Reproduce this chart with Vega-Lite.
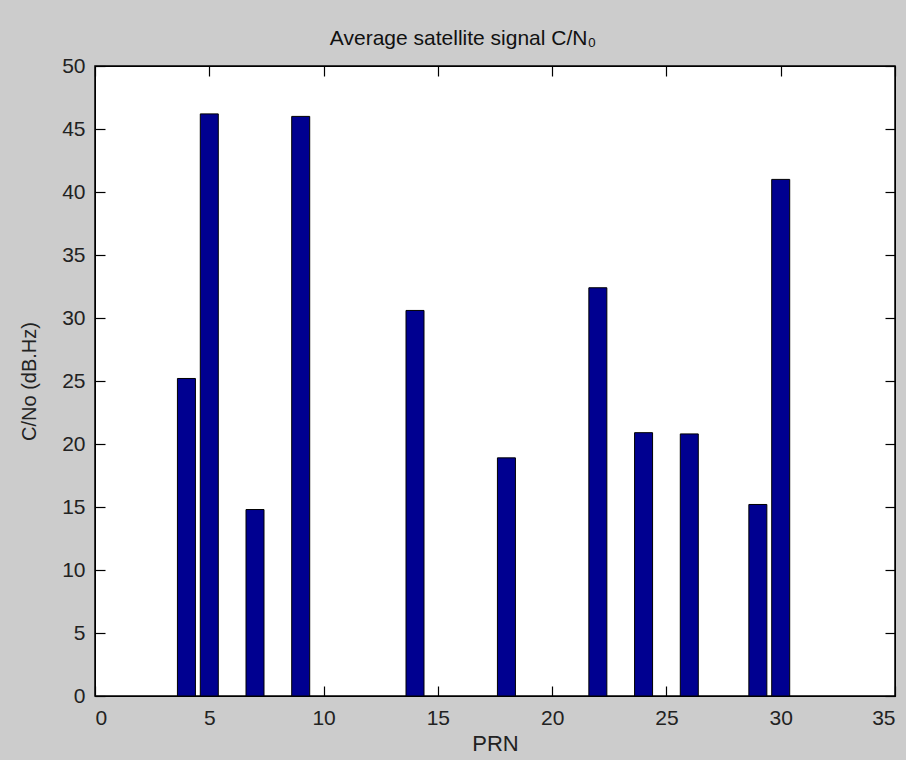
{
  "$schema": "https://vega.github.io/schema/vega-lite/v6.json",
  "autosize": "none",
  "width": 800,
  "height": 630,
  "padding": {"left": 95, "top": 66, "right": 11, "bottom": 64},
  "background": "#cccccc",
  "title": {
    "text": "Average satellite signal C/N₀",
    "font": "Liberation Sans",
    "fontSize": 21,
    "fontWeight": "normal",
    "color": "#111111",
    "anchor": "middle",
    "offset": 6,
    "dx": -32
  },
  "config": {
    "view": {"fill": "#ffffff", "stroke": "#000000", "strokeWidth": 1.5},
    "axis": {
      "labelFont": "Liberation Sans",
      "labelFontSize": 21,
      "labelColor": "#222222",
      "titleFont": "Liberation Sans",
      "titleFontWeight": "normal",
      "titleColor": "#222222",
      "grid": false,
      "domainColor": "#000000",
      "tickColor": "#000000",
      "tickSize": -10,
      "tickWidth": 1.2
    }
  },
  "data": {
    "values": [
      {"PRN": 4, "CN0": 25.2},
      {"PRN": 5, "CN0": 46.2},
      {"PRN": 7, "CN0": 14.8},
      {"PRN": 9, "CN0": 46.0},
      {"PRN": 14, "CN0": 30.6},
      {"PRN": 18, "CN0": 18.9},
      {"PRN": 22, "CN0": 32.4},
      {"PRN": 24, "CN0": 20.9},
      {"PRN": 26, "CN0": 20.8},
      {"PRN": 29, "CN0": 15.2},
      {"PRN": 30, "CN0": 41.0}
    ]
  },
  "layer": [
    {
      "mark": {"type": "bar", "width": 18, "fill": "#000090", "stroke": "#000000", "strokeWidth": 1},
      "encoding": {
        "x": {
          "field": "PRN", "type": "quantitative",
          "scale": {"domain": [0, 35], "nice": false, "padding": 0},
          "axis": {"orient": "bottom", "values": [0, 5, 10, 15, 20, 25, 30, 35], "title": "PRN", "titleFontSize": 22, "labelPadding": 21, "titlePadding": 5}
        },
        "y": {
          "field": "CN0", "type": "quantitative",
          "scale": {"domain": [0, 50], "nice": false, "padding": 0},
          "axis": {"orient": "left", "values": [0, 5, 10, 15, 20, 25, 30, 35, 40, 45, 50], "title": "C/No (dB.Hz)", "titleFontSize": 20, "labelPadding": 20, "titlePadding": 22}
        }
      }
    },
    {
      "mark": {"type": "bar", "width": 18, "opacity": 0},
      "encoding": {
        "x": {
          "field": "PRN", "type": "quantitative",
          "axis": {"orient": "top", "values": [0, 5, 10, 15, 20, 25, 30, 35], "labels": false, "title": null}
        },
        "y": {
          "field": "CN0", "type": "quantitative",
          "axis": {"orient": "right", "values": [0, 5, 10, 15, 20, 25, 30, 35, 40, 45, 50], "labels": false, "title": null}
        }
      }
    }
  ],
  "resolve": {"axis": {"x": "independent", "y": "independent"}}
}
